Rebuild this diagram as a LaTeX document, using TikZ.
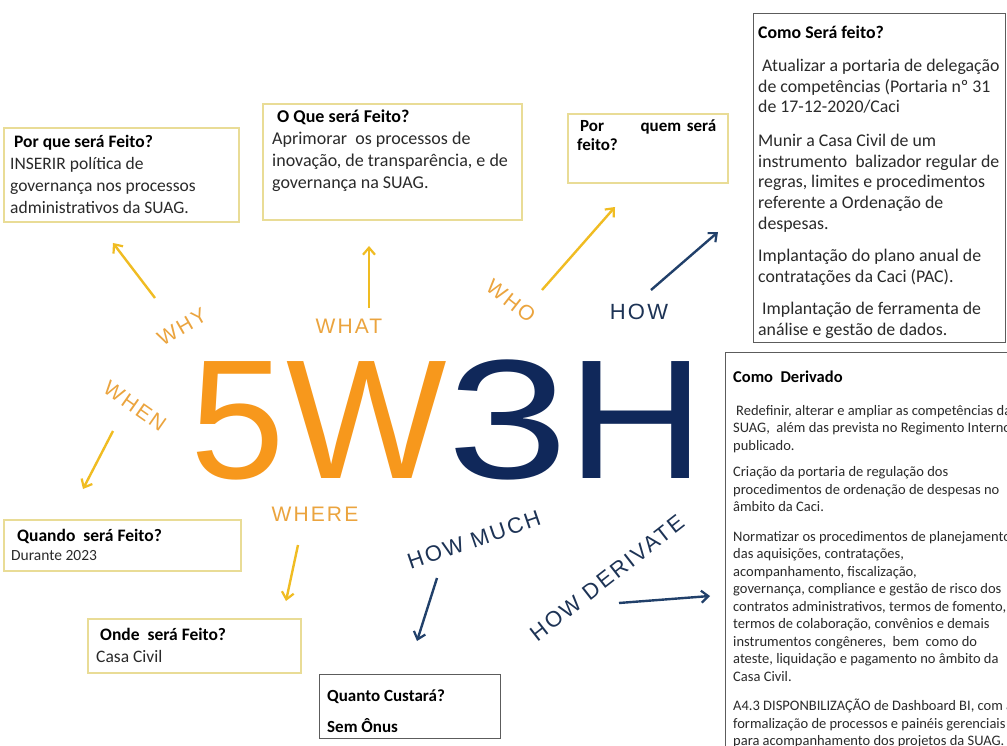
\documentclass[tikz,border=0pt]{standalone}
\usepackage{fontspec}
\setmainfont{Carlito}
\newfontfamily\bigsans{Liberation Sans}
\newfontfamily\capsans[LetterSpace=10]{Liberation Sans}
\usetikzlibrary{arrows.meta,positioning}
\definecolor{worange}{HTML}{F7981C}
\definecolor{wlabel}{HTML}{EBA43E}
\definecolor{warrow}{HTML}{F0BC22}
\definecolor{hnavy}{HTML}{10285A}
\definecolor{hlabel}{HTML}{1D3355}
\definecolor{harrow}{HTML}{21406A}
\definecolor{wline}{HTML}{E9DC96}
\definecolor{hline}{HTML}{5C5C5C}
\definecolor{txt}{HTML}{2A2A2A}
\newcommand{\fs}[2]{\fontsize{#1}{#2}\selectfont}
\newcommand{\ttl}[1]{{\color{black}\textbf{#1}}}
\tikzset{
  frame/.style={draw=wline,line width=1.7pt,anchor=north west,inner sep=0pt},
  hframe/.style={frame,draw=hline,line width=1.3pt},
  body/.style={anchor=north west,align=left,inner sep=0pt,text=txt},
  wtag/.style={font=\capsans\fs{21}{21},text=wlabel,inner sep=0pt},
  htag/.style={wtag,text=hlabel,font=\capsans\fs{22}{22}},
  glyph/.style={anchor=base west,inner sep=0pt,text depth=0pt,font=\bigsans\fs{170}{170}},
  war/.style={-{Straight Barb[length=7pt,width=12pt,line width=2.2pt]},line width=2.4pt,draw=warrow},
  har/.style={war,draw=harrow},
}

\begin{document}
\begin{tikzpicture}[x=1pt,y=-1pt]
\useasboundingbox (0,0) rectangle (1007,746);
\fill[white] (0,0) rectangle (1007,746);

% the four big letters
\node[glyph,text=worange] (five) at (190,478) {5};
\node[glyph,text=worange] (dbl) at (286,478) {W};
\node[glyph,text=hnavy] (three) at (447,478) {\scalebox{1.28}[1]{3}};
\node[glyph,text=hnavy] (aitch) at (567,478) {\scalebox{1.12}[1]{H}};

% question boxes
\node[frame,minimum width=235pt,minimum height=94pt] (why) at (3,127) {};
\node[body,font=\fs{17.5}{22}] (why-t) at ([shift={(7,8)}]why.north west)
 {\hspace*{4pt}\ttl{Por que será Feito?}\\INSERIR política de\\governança nos processos\\administrativos da SUAG.};

\node[frame,minimum width=259pt,minimum height=116pt] (what) at (262,103) {};
\node[body,font=\fs{18}{21.8}] (what-t) at ([shift={(10,7)}]what.north west)
 {\hspace*{5pt}\ttl{O Que será Feito?}\\Aprimorar~ os processos de\\inovação, de transparência, e de\\governança na SUAG.};

\node[frame,minimum width=160pt,minimum height=69pt] (who) at (567,113) {};
\node[body,font=\fs{17}{19},text width=139pt] (who-t) at ([shift={(10,7)}]who.north west)
 {\hspace*{3pt}\ttl{Por}\hfill\ttl{quem será}\\\ttl{feito?}};

\node[hframe,minimum width=252pt,minimum height=329pt] (how) at (753,13) {};
\node[body,font=\fs{17.8}{20.7}] (how-t) at ([shift={(5,13)}]how.north west)
 {\ttl{Como Será feito?}\\[12pt]
 \hspace*{4pt}Atualizar a portaria de delegação\\de competências (Portaria nº 31\\de 17-12-2020/Caci\\[13pt]
 Munir a Casa Civil de um\\instrumento~ balizador regular de\\regras, limites e procedimentos\\referente a Ordenação de\\despesas.\\[12pt]
 Implantação do plano anual de\\contratações da Caci (PAC).\\[11pt]
 \hspace*{4pt}Implantação de ferramenta de\\análise e gestão de dados.};

\begin{scope}
\clip (0,0) rectangle (1007,746);
\node[hframe,minimum width=300pt,minimum height=420pt] (derive) at (725,352) {};
\node[body,font=\fs{14.5}{17.5}] (derive-t) at ([shift={(8,19)}]derive.north west)
 {{\fs{16.5}{17.5}\ttl{Como~ Derivado}}\\[15pt]
 \hspace*{3pt}Redefinir, alterar e ampliar as competências da\\SUAG,~ além das prevista no Regimento Interno\\publicado.\\[9pt]
 Criação da portaria de regulação dos\\procedimentos de ordenação de despesas no\\âmbito da Caci.\\[12pt]
 Normatizar os procedimentos de planejamento\\das aquisições, contratações,\\acompanhamento, fiscalização,\\governança, compliance e gestão de risco dos\\contratos administrativos, termos de fomento,\\termos de colaboração, convênios e demais\\instrumentos congêneres,~ bem~ como do\\ateste, liquidação e pagamento no âmbito da\\Casa Civil.\\[12pt]
 A4.3 DISPONBILIZAÇÃO de Dashboard BI, com a\\formalização de processos e painéis gerenciais\\para acompanhamento dos projetos da SUAG.};
\end{scope}

\node[frame,minimum width=237pt,minimum height=51pt] (when) at (3,519) {};
\node[body,font=\fs{15.5}{19.5}] (when-t) at ([shift={(8,10)}]when.north west)
 {\hspace*{6pt}{\fs{17.5}{19.5}\ttl{Quando~ será Feito?}}\\Durante 2023};

\node[frame,minimum width=213pt,minimum height=54pt] (where) at (87,618) {};
\node[body,font=\fs{17.5}{22}] (where-t) at ([shift={(9,10)}]where.north west)
 {\hspace*{4pt}\ttl{Onde~ será Feito?}\\Casa Civil};

\node[hframe,minimum width=181pt,minimum height=64pt] (much) at (319,674) {};
\node[body,font=\fs{17}{31}] (much-t) at ([shift={(8,16)}]much.north west)
 {\ttl{Quanto Custará?}\\\ttl{Sem Ônus}};

% labels round the letters
\node[wtag,rotate=30] (why-l) at (182,327) {WHY};
\node[wtag] (what-l) at (349,326) {WHAT};
\node[wtag,rotate=-38] (who-l) at (511,301) {WHO};
\node[htag] (how-l) at (639,312) {HOW};
\node[wtag,rotate=-35] (when-l) at (135,406) {WHEN};
\node[wtag] (where-l) at (315,514) {WHERE};
\node[htag,rotate=19] (much-l) at (474,540) {HOW MUCH};
\node[htag,rotate=38] (derive-l) at (607,578) {HOW DERIVATE};

\coordinate (why-a) at (155,298);   \coordinate (why-b) at (113,243);
\coordinate (what-a) at (369,308);  \coordinate (what-b) at (369,246);
\coordinate (who-a) at (542,290);   \coordinate (who-b) at (615,207);
\coordinate (how-a) at (651,290);   \coordinate (how-b) at (718,232);
\coordinate (when-a) at (113,431);  \coordinate (when-b) at (83,489);
\coordinate (where-a) at (298,545); \coordinate (where-b) at (286,601);
\coordinate (much-a) at (437,578);  \coordinate (much-b) at (417,641);
\coordinate (derive-a) at (619,603); \coordinate (derive-b) at (710,596);

\draw[war] (why-a) -- (why-b);
\draw[war] (what-a) -- (what-b);
\draw[war] (who-a) -- (who-b);
\draw[har] (how-a) -- (how-b);
\draw[war] (when-a) -- (when-b);
\draw[war] (where-a) -- (where-b);
\draw[har] (much-a) -- (much-b);
\draw[har] (derive-a) -- (derive-b);
\end{tikzpicture}
\end{document}
